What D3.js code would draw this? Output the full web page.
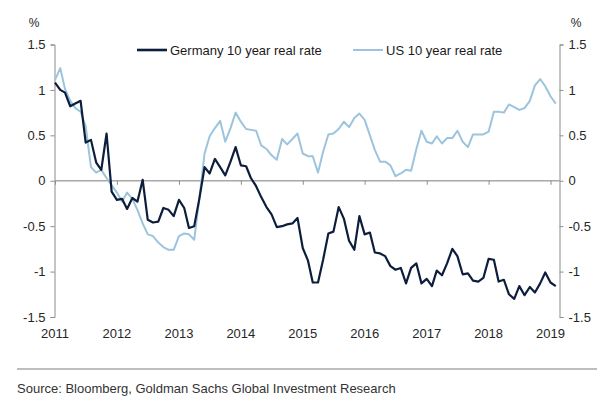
<!DOCTYPE html>
<html>
<head>
<meta charset="utf-8">
<script src="https://cdn.jsdelivr.net/npm/d3@7"></script>
<style>
  html, body { margin: 0; padding: 0; background: #fff; }
  svg { display: block; font-family: "Liberation Sans", Arial, sans-serif; }
</style>
</head>
<body>
<svg id="chart" width="602" height="409"></svg>
<script>
// ---- Data (monthly, Jan 2011 – Feb 2019) ----
const startMonth = "2011-01";
const germany = [
  1.08, 1.00, 0.97, 0.82, 0.85, 0.88, 0.42, 0.45, 0.20, 0.12, 0.52, -0.12,
  -0.21, -0.20, -0.31, -0.19, -0.23, 0.01, -0.43, -0.46, -0.45, -0.30, -0.32, -0.39,
  -0.21, -0.30, -0.52, -0.50, -0.20, 0.15, 0.08, 0.24, 0.15, 0.06, 0.21, 0.37,
  0.17, 0.16, 0.03, -0.06, -0.18, -0.29, -0.37, -0.51, -0.50, -0.48, -0.47, -0.41,
  -0.74, -0.88, -1.12, -1.12, -0.87, -0.58, -0.56, -0.29, -0.42, -0.66, -0.76, -0.39,
  -0.59, -0.57, -0.79, -0.80, -0.83, -0.94, -0.98, -0.96, -1.13, -0.96, -0.91, -1.13,
  -1.08, -1.16, -0.99, -1.04, -0.91, -0.75, -0.83, -1.03, -1.02, -1.10, -1.11, -1.07,
  -0.86, -0.87, -1.11, -1.09, -1.25, -1.30, -1.16, -1.26, -1.17, -1.23, -1.13, -1.01,
  -1.12, -1.16
];
const us = [
  1.11, 1.24, 1.01, 0.88, 0.80, 0.76, 0.60, 0.15, 0.09, 0.12, 0.03, -0.05,
  -0.13, -0.23, -0.13, -0.20, -0.32, -0.47, -0.59, -0.61, -0.68, -0.73, -0.76, -0.76,
  -0.61, -0.58, -0.59, -0.65, -0.20, 0.30, 0.49, 0.58, 0.66, 0.43, 0.58, 0.75,
  0.65, 0.57, 0.56, 0.55, 0.39, 0.35, 0.28, 0.23, 0.46, 0.40, 0.46, 0.52,
  0.30, 0.27, 0.27, 0.09, 0.32, 0.51, 0.52, 0.57, 0.65, 0.59, 0.69, 0.74,
  0.67, 0.50, 0.34, 0.21, 0.21, 0.17, 0.05, 0.08, 0.12, 0.11, 0.35, 0.55,
  0.43, 0.41, 0.49, 0.41, 0.47, 0.47, 0.55, 0.43, 0.37, 0.51, 0.51, 0.51,
  0.54, 0.76, 0.76, 0.75, 0.84, 0.81, 0.78, 0.80, 0.88, 1.05, 1.12, 1.04,
  0.93, 0.85
];
const seriesNames = ["Germany 10 year real rate", "US 10 year real rate"];
const yTicks = [-1.5, -1, -0.5, 0, 0.5, 1, 1.5];
const yearTicks = [2011, 2012, 2013, 2014, 2015, 2016, 2017, 2018, 2019];
const sourceText = "Source: Bloomberg, Goldman Sachs Global Investment Research";

// ---- Setup ----
const svg = d3.select("#chart");
const colGer = "#0c1e3c", colUS = "#9dc4dd";
const parseMonth = d3.timeParse("%Y-%m");
const t0 = parseMonth(startMonth);
const dates = germany.map((_, i) => d3.timeMonth.offset(t0, i));

const x = d3.scaleTime()
  .domain([new Date(2011, 0, 1), new Date(2019, 1, 23)])
  .range([55, 559.5]);
const y = d3.scaleLinear().domain([-1.5, 1.5]).range([317, 44.5]);

const fmt = v => (v === 0 ? "0" : String(v));

// Left axis
const gL = svg.append("g").attr("transform", "translate(54.5,0)")
  .call(d3.axisLeft(y).tickValues(yTicks).tickFormat(fmt).tickSizeOuter(0).tickSize(4).tickPadding(5));
// Right axis
const gR = svg.append("g").attr("transform", "translate(559.5,0)")
  .call(d3.axisRight(y).tickValues(yTicks).tickFormat(fmt).tickSizeOuter(0).tickSize(4).tickPadding(5));
[gL, gR].forEach(g => {
  g.select(".domain").attr("stroke", "#8c8c8c").attr("stroke-width", 1);
  g.selectAll(".tick line").attr("stroke", "#8c8c8c");
  g.selectAll(".tick text").attr("fill", "#262626").style("font-size", "13px")
    .style("font-family", '"Liberation Sans", Arial, sans-serif');
});

// Zero line with year ticks
const gX = svg.append("g").attr("transform", `translate(0,${y(0)})`)
  .call(d3.axisBottom(x).tickValues(yearTicks.map(yr => new Date(yr, 0, 1))).tickSize(4).tickFormat(""));
gX.select(".domain").attr("d", `M54.5,0H559.5`).attr("stroke", "#a8a8a8").attr("stroke-width", 1.6);
gX.selectAll(".tick line").attr("stroke", "#8c8c8c");

// Year labels at bottom
svg.append("g").selectAll("text").data(yearTicks).join("text")
  .attr("x", d => x(new Date(d, 0, 1)))
  .attr("y", 338)
  .attr("text-anchor", "middle")
  .attr("fill", "#262626")
  .style("font-size", "13px")
  .text(d => d);

// % labels
svg.append("text").attr("x", 34).attr("y", 27).attr("text-anchor", "middle")
  .attr("fill", "#262626").style("font-size", "12px").text("%");
svg.append("text").attr("x", 576).attr("y", 27).attr("text-anchor", "middle")
  .attr("fill", "#262626").style("font-size", "12px").text("%");

// Lines
const line = d3.line().x((d, i) => x(dates[i])).y(d => y(d));
svg.append("path").datum(us).attr("d", line)
  .attr("fill", "none").attr("stroke", colUS).attr("stroke-width", 2)
  .attr("stroke-linejoin", "round");
svg.append("path").datum(germany).attr("d", line)
  .attr("fill", "none").attr("stroke", colGer).attr("stroke-width", 2.2)
  .attr("stroke-linejoin", "round");

// Legend
const legend = [
  { name: seriesNames[0], color: colGer, x0: 137, w: 2.6 },
  { name: seriesNames[1], color: colUS, x0: 353, w: 2 }
];
legend.forEach(l => {
  svg.append("line").attr("x1", l.x0).attr("x2", l.x0 + 30).attr("y1", 50).attr("y2", 50)
    .attr("stroke", l.color).attr("stroke-width", l.w);
  svg.append("text").attr("x", l.x0 + 33).attr("y", 55)
    .attr("fill", "#1a1a1a").style("font-size", "13px").text(l.name);
});

// Separator and source
svg.append("line").attr("x1", 17).attr("x2", 597).attr("y1", 369).attr("y2", 369)
  .attr("stroke", "#a8a8a8").attr("stroke-width", 1.5);
svg.append("text").attr("x", 17).attr("y", 393)
  .attr("fill", "#333").style("font-size", "13px").text(sourceText);
</script>
</body>
</html>
